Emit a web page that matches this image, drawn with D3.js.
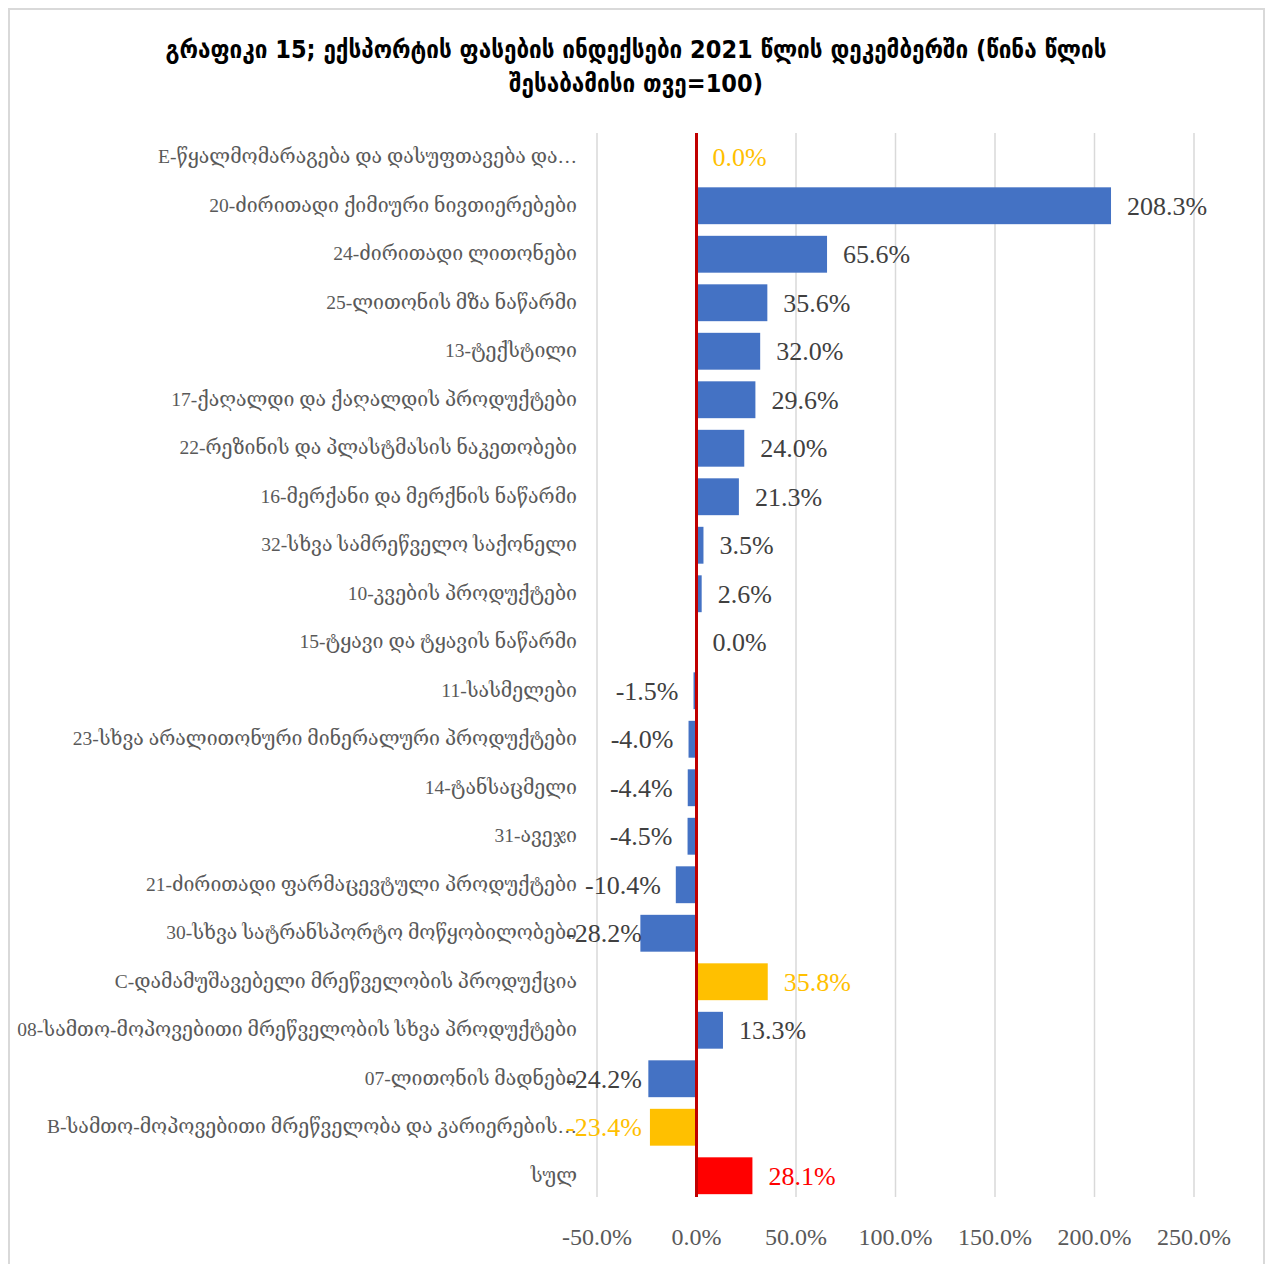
<!DOCTYPE html>
<html>
<meta charset="utf-8">
<head>
    <script src="https://d3js.org/d3.v7.min.js"></script>
</head>

<style>
  body { margin: 0; background: #fff; }
  svg .grid line { stroke: #d9d9d9; stroke-width: 1.5; }
  svg .cat-label {
  fill: #595959;
  font: 19.5px "Liberation Serif", "DejaVu Serif", serif;
  text-anchor: end;
  }
  svg .val-label {
  font: 26px "Liberation Serif", "DejaVu Serif", serif;
  }
  svg .tick-label {
  fill: #595959;
  font: 24px "Liberation Serif", serif;
  text-anchor: middle;
  }
  svg .title {
  fill: #000;
  font: bold 25px "DejaVu Sans Condensed", "DejaVu Sans", sans-serif;
  text-anchor: middle;
  }
</style>

<body>
    <script>

        var categories = [
            "E-წყალმომარაგება და დასუფთავება და…",
            "20-ძირითადი ქიმიური ნივთიერებები",
            "24-ძირითადი ლითონები",
            "25-ლითონის მზა ნაწარმი",
            "13-ტექსტილი",
            "17-ქაღალდი და ქაღალდის პროდუქტები",
            "22-რეზინის და პლასტმასის ნაკეთობები",
            "16-მერქანი და მერქნის ნაწარმი",
            "32-სხვა სამრეწველო საქონელი",
            "10-კვების პროდუქტები",
            "15-ტყავი და ტყავის ნაწარმი",
            "11-სასმელები",
            "23-სხვა არალითონური მინერალური პროდუქტები",
            "14-ტანსაცმელი",
            "31-ავეჯი",
            "21-ძირითადი ფარმაცევტული პროდუქტები",
            "30-სხვა სატრანსპორტო მოწყობილობები",
            "C-დამამუშავებელი მრეწველობის პროდუქცია",
            "08-სამთო-მოპოვებითი მრეწველობის სხვა პროდუქტები",
            "07-ლითონის მადნები",
            "B-სამთო-მოპოვებითი მრეწველობა და კარიერების…",
            "სულ"
        ];

        var values = [0.0, 208.3, 65.6, 35.6, 32.0, 29.6, 24.0, 21.3, 3.5, 2.6, 0.0,
            -1.5, -4.0, -4.4, -4.5, -10.4, -28.2, 35.8, 13.3, -24.2, -23.4, 28.1];

        // kind: sector totals in yellow, overall total in red
        var kinds = ["sector", "item", "item", "item", "item", "item", "item", "item", "item", "item", "item",
            "item", "item", "item", "item", "item", "item", "sector", "item", "item", "sector", "total"];

        var ticks = [-50, 0, 50, 100, 150, 200, 250];

        var titleLines = [
            "გრაფიკი 15; ექსპორტის ფასების ინდექსები 2021 წლის დეკემბერში (წინა წლის",
            "შესაბამისი თვე=100)"
        ];

        var barColor = { item: "#4472c4", sector: "#ffc000", total: "#ff0000" };
        var labelColor = { item: "#404040", sector: "#ffc000", total: "#ff0000" };

        var width = 1266, height = 1264;
        var data = categories.map(function(c, i) {
            return { name: c, value: values[i], kind: kinds[i] };
        });

        var svg = d3.select("body").append("svg")
            .attr("width", width)
            .attr("height", height);

        svg.append("rect")
            .attr("x", 9).attr("y", 9)
            .attr("width", 1255).attr("height", 1270)
            .attr("fill", "#fff")
            .attr("stroke", "#d9d9d9")
            .attr("stroke-width", 2);

        var x = d3.scaleLinear().domain([-50, 250]).range([597, 1194]);
        var y = d3.scaleBand().domain(categories).range([133, 1200]).paddingInner(0.24).paddingOuter(0.12);

        svg.selectAll(".title")
            .data(titleLines)
            .enter().append("text")
            .attr("class", "title")
            .attr("x", 636)
            .attr("y", function(d, i) { return 58 + i * 34; })
            .text(function(d) { return d; });

        var grid = svg.append("g").attr("class", "grid");
        grid.selectAll("line")
            .data(ticks.filter(function(t) { return t !== 0; }))
            .enter().append("line")
            .attr("x1", function(d) { return x(d); })
            .attr("x2", function(d) { return x(d); })
            .attr("y1", 133)
            .attr("y2", 1197);

        svg.selectAll(".tick-label")
            .data(ticks)
            .enter().append("text")
            .attr("class", "tick-label")
            .attr("x", function(d) { return x(d); })
            .attr("y", 1245)
            .text(function(d) { return d.toFixed(1) + "%"; });

        svg.append("g").selectAll("rect")
            .data(data)
            .enter().append("rect")
            .attr("x", function(d) { return x(Math.min(0, d.value)); })
            .attr("y", function(d) { return y(d.name); })
            .attr("width", function(d) { return Math.abs(x(d.value) - x(0)); })
            .attr("height", y.bandwidth())
            .attr("fill", function(d) { return barColor[d.kind]; });

        // zero line
        svg.append("line")
            .attr("x1", x(0)).attr("x2", x(0))
            .attr("y1", 133).attr("y2", 1197)
            .attr("stroke", "#c00000")
            .attr("stroke-width", 3);

        svg.selectAll(".cat-label")
            .data(data)
            .enter().append("text")
            .attr("class", "cat-label")
            .attr("x", 577)
            .attr("y", function(d) { return y(d.name) + y.bandwidth() / 2 + 6; })
            .text(function(d) { return d.name; });

        svg.selectAll(".val-label")
            .data(data)
            .enter().append("text")
            .attr("class", "val-label")
            .attr("fill", function(d) { return labelColor[d.kind]; })
            .attr("y", function(d) { return y(d.name) + y.bandwidth() / 2 + 9; })
            .text(function(d) { return d.value.toFixed(1) + "%"; })
            .each(function(d) {
                var t = d3.select(this), w = this.getComputedTextLength();
                if (d.value >= 0) {
                    t.attr("x", x(d.value) + 16);
                } else {
                    var start = Math.max(x(d.value) - 15 - w, 566);
                    t.attr("x", start);
                }
            });
    </script>
</body>
</html>
